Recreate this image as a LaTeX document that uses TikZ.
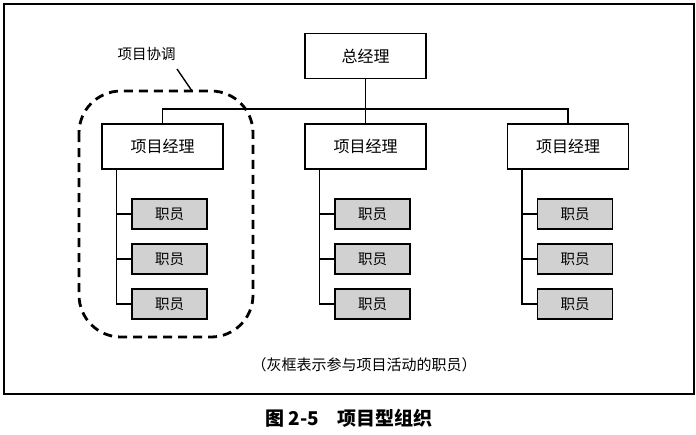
\documentclass[tikz,border=0pt]{standalone}
\usepackage{fontspec}
\setmainfont{Noto Sans CJK SC}
\usetikzlibrary{positioning}
\tikzset{
  box/.style={draw,line width=1.4pt,minimum width=121pt,minimum height=45pt,
              inner sep=0pt,font=\fontsize{16}{18}\selectfont},
  staff/.style={draw,line width=1.4pt,fill=black!18,minimum width=75pt,
                minimum height=30pt,inner sep=0pt,font=\fontsize{14.5}{16}\selectfont},
  link/.style={line width=1.4pt},
  coord/.style={line width=2.8pt,dash pattern=on 9pt off 6pt,rounded corners=42pt}
}

\begin{document}
\begin{tikzpicture}[x=1pt,y=-1pt,font=\fontsize{14.5}{16}\selectfont]
  \useasboundingbox (0,0) rectangle (696,434);

  % FRAME
  \draw[line width=2pt] (4,4) rectangle (694,394);

  % GENERAL MANAGER
  \node[box] (gm) at (365.5,56) {总经理};
  \coordinate (bus) at (365.5,109);

  % PROJECT MANAGERS AND STAFF
  \foreach \i/\x in {1/162.5,2/365.5,3/568}{
    \node[box] (pm\i) at (\x,146.5) {项目经理};
    \foreach \j/\y in {1/214,2/259,3/304}{
      \node[staff] (s\i\j) at (\x+7,\y) {职员};
      \draw[link] ([xshift=15pt]pm\i.south west) |- (s\i\j.west);
    }
  }

  % BUS
  \draw[link] (gm.south) -- (pm2.north);
  \draw[link] (pm1.north) |- (bus) -| (pm3.north);

  % PROJECT COORDINATION
  \draw[coord] (79,91) rectangle (253,337);
  \node[inner sep=0pt] (lbl) at (146.5,54) {项目协调};
  \coordinate (start) at (177,69);
  \coordinate (tip) at (192,91);
  \draw[link] (start) -- (tip);

  % NOTE AND CAPTION
  \node[font=\fontsize{15}{17}\selectfont] (note) at (364,365)
    {（灰框表示参与项目活动的职员）};
  \node[font=\fontsize{19}{21}\selectfont\bfseries] (cap) at (349,418)
    {图 2-5\hspace{1em}项目型组织};

\end{tikzpicture}
\end{document}
